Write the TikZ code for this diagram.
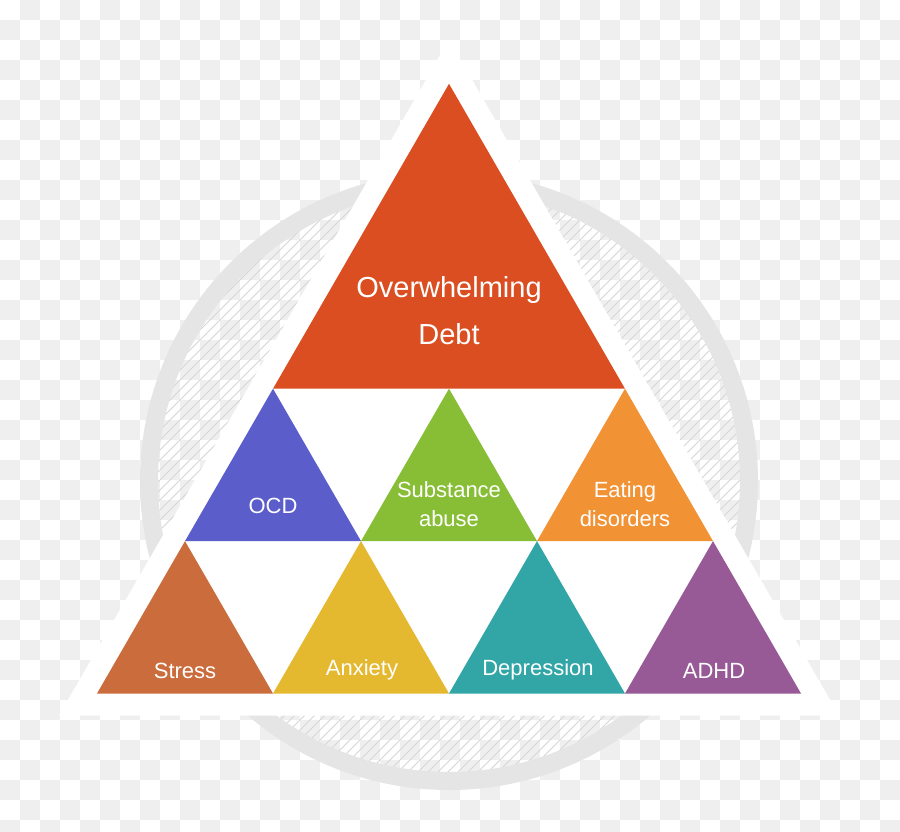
\documentclass[tikz,border=0pt]{standalone}
\usepackage{fontspec}
\setmainfont{Liberation Sans}
\definecolor{checkgray}{HTML}{EFEFEF}
\definecolor{ringgray}{HTML}{E5E5E5}
\definecolor{hatchgray}{HTML}{D6D6D6}
\definecolor{cdebt}{HTML}{DA4E21}
\definecolor{cocd}{HTML}{5A5DCA}
\definecolor{csub}{HTML}{87BE35}
\definecolor{ceat}{HTML}{F19234}
\definecolor{cstress}{HTML}{CB6C3C}
\definecolor{canx}{HTML}{E4B82F}
\definecolor{cdep}{HTML}{32A6A6}
\definecolor{cadhd}{HTML}{975A96}
\tikzset{
  lbl/.style={text=white, inner sep=0pt, align=center, font=\fontsize{22}{29}\selectfont},
  biglbl/.style={text=white, inner sep=0pt, align=center, font=\fontsize{29}{47}\selectfont}
}
\begin{document}
\begin{tikzpicture}[x=1pt,y=-1pt]
\useasboundingbox (0,0) rectangle (900,832);
\fill[white] (0,0) rectangle (900,832);
% checkerboard
\foreach \j in {0,...,41}{
  \pgfmathtruncatemacro\off{mod(\j,2)}
  \foreach \i in {0,2,...,44}{
    \fill[checkgray] ({(\i+1-\off)*20},{\j*20}) rectangle +(20,20);
  }
}
% hatched disc
\begin{scope}
  \clip (449,481) circle[radius=292];
  \foreach \c in {500,510,...,1400}{
    \draw[hatchgray, line width=0.8pt] (\c,0) -- ({\c-900},900);
  }
\end{scope}
% ring
\draw[ringgray, line width=18pt] (449,481) circle[radius=300];
% outer white triangle
\fill[white] (449,39.8) -- (839.1,715.5) -- (58.9,715.5) -- cycle;
% coloured triangles
\fill[cdebt] (449,83.8) -- (625,388.7) -- (273,388.7) -- cycle;
\fill[cocd] (273,388.7) -- (361,541.1) -- (185,541.1) -- cycle;
\fill[csub] (449,388.7) -- (537,541.1) -- (361,541.1) -- cycle;
\fill[ceat] (625,388.7) -- (713,541.1) -- (537,541.1) -- cycle;
\fill[cstress] (185,541.1) -- (273,693.5) -- (97,693.5) -- cycle;
\fill[canx] (361,541.1) -- (449,693.5) -- (273,693.5) -- cycle;
\fill[cdep] (537,541.1) -- (625,693.5) -- (449,693.5) -- cycle;
\fill[cadhd] (713,541.1) -- (801,693.5) -- (625,693.5) -- cycle;
% labels
\node[biglbl] (debt) at (449,311) {Overwhelming\\Debt};
\node[lbl, anchor=base] (ocd) at (273,513) {OCD};
\node[lbl] (sub) at (449,504.5) {Substance\\abuse};
\node[lbl] (eat) at (625,504.5) {Eating\\disorders};
\node[lbl, anchor=base] (stress) at (185,678) {Stress};
\node[lbl, anchor=base] (anx) at (362,675) {Anxiety};
\node[lbl, anchor=base] (dep) at (538,675) {Depression};
\node[lbl, anchor=base] (adhd) at (714,678) {ADHD};
\end{tikzpicture}
\end{document}
